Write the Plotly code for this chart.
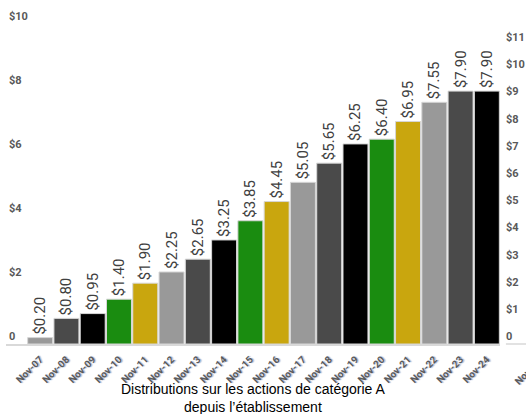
import plotly.graph_objects as go

categories = ["Nov-07", "Nov-08", "Nov-09", "Nov-10", "Nov-11", "Nov-12", "Nov-13", "Nov-14", "Nov-15",
              "Nov-16", "Nov-17", "Nov-18", "Nov-19", "Nov-20", "Nov-21", "Nov-22", "Nov-23", "Nov-24"]
values = [0.20, 0.80, 0.95, 1.40, 1.90, 2.25, 2.65, 3.25, 3.85,
          4.45, 5.05, 5.65, 6.25, 6.40, 6.95, 7.55, 7.90, 7.90]
left_ticks = [0, 2, 4, 6, 8, 10]
left_ticktext = ["0", "$2", "$4", "$6", "$8", "$10"]
right_ticks = list(range(0, 12))
right_ticktext = ["0"] + ["$%d" % v for v in range(1, 12)]
title_text = "Distributions sur les actions de catégorie A<br>depuis l’établissement"

palette = ["#999999", "#4a4a4a", "#000000", "#1a8c10", "#c9a60e"]
bar_colors = [palette[i % len(palette)] for i in range(len(categories))]

fig = go.Figure()
fig.add_trace(go.Bar(
    x=categories, y=values,
    marker=dict(color=bar_colors, line=dict(color="#d6d6d6", width=1)),
    text=["$%.2f" % v for v in values], textposition="outside", textangle=-90,
    constraintext="none", cliponaxis=False,
    textfont=dict(family="Roboto", size=15, color="#404040"),
    hoverinfo="skip", showlegend=False,
))
# invisible trace for right axis
fig.add_trace(go.Scatter(x=[categories[0]], y=[0], yaxis="y2", mode="markers",
                         marker=dict(opacity=0), showlegend=False, hoverinfo="skip"))

tick_font = dict(family="Roboto", size=10, color="#5a5a5a", weight="bold",
                 shadow="1px 1px 1px #a9b9d6")

fig.update_layout(
    width=526, height=414,
    margin=dict(l=6, r=26, t=5, b=70, autoexpand=False),
    paper_bgcolor="white", plot_bgcolor="white",
    bargap=0.05,
    xaxis=dict(range=[-1.3, 17.5], tickangle=-45, showgrid=False, automargin=False,
               showline=True, linecolor="#d9d9d9", linewidth=1.5, ticks="",
               ticklabelstandoff=4, tickfont=tick_font),
    yaxis=dict(range=[0, 10.59], tickvals=left_ticks, ticktext=left_ticktext, automargin=False,
               showgrid=False, zeroline=False, showline=False, ticks="",
               ticklabelposition="inside top",
               tickfont=dict(family="Roboto", size=11, color="#595959", weight="bold")),
    yaxis2=dict(range=[0, 12.47], tickvals=right_ticks, ticktext=right_ticktext, automargin=False,
                overlaying="y", side="right", showgrid=False, zeroline=False,
                showline=False, ticks="", ticklabelposition="outside top",
                ticklabelstandoff=5,
                tickfont=dict(family="Roboto", size=11, color="#595959", weight="bold")),
    annotations=[
        dict(text=title_text, xref="paper", yref="paper", x=0.5, y=-0.158,
             xanchor="center", yanchor="middle", showarrow=False,
             font=dict(family="Liberation Sans, Arial", size=14, color="#000000")),
        dict(text="Nov-07", xref="paper", yref="paper", x=1.0567, y=-0.082,
             xanchor="center", yanchor="middle",
             showarrow=False, textangle=-45, font=tick_font),
    ],
    shapes=[dict(type="line", xref="paper", yref="paper", x0=1.012, x1=1.07, y0=0, y1=0,
                 line=dict(color="#d9d9d9", width=1.5))],
)

fig.write_html("out.html", config={"displayModeBar": False},
               post_script="document.body.style.margin='0';document.body.style.overflow='hidden';")
